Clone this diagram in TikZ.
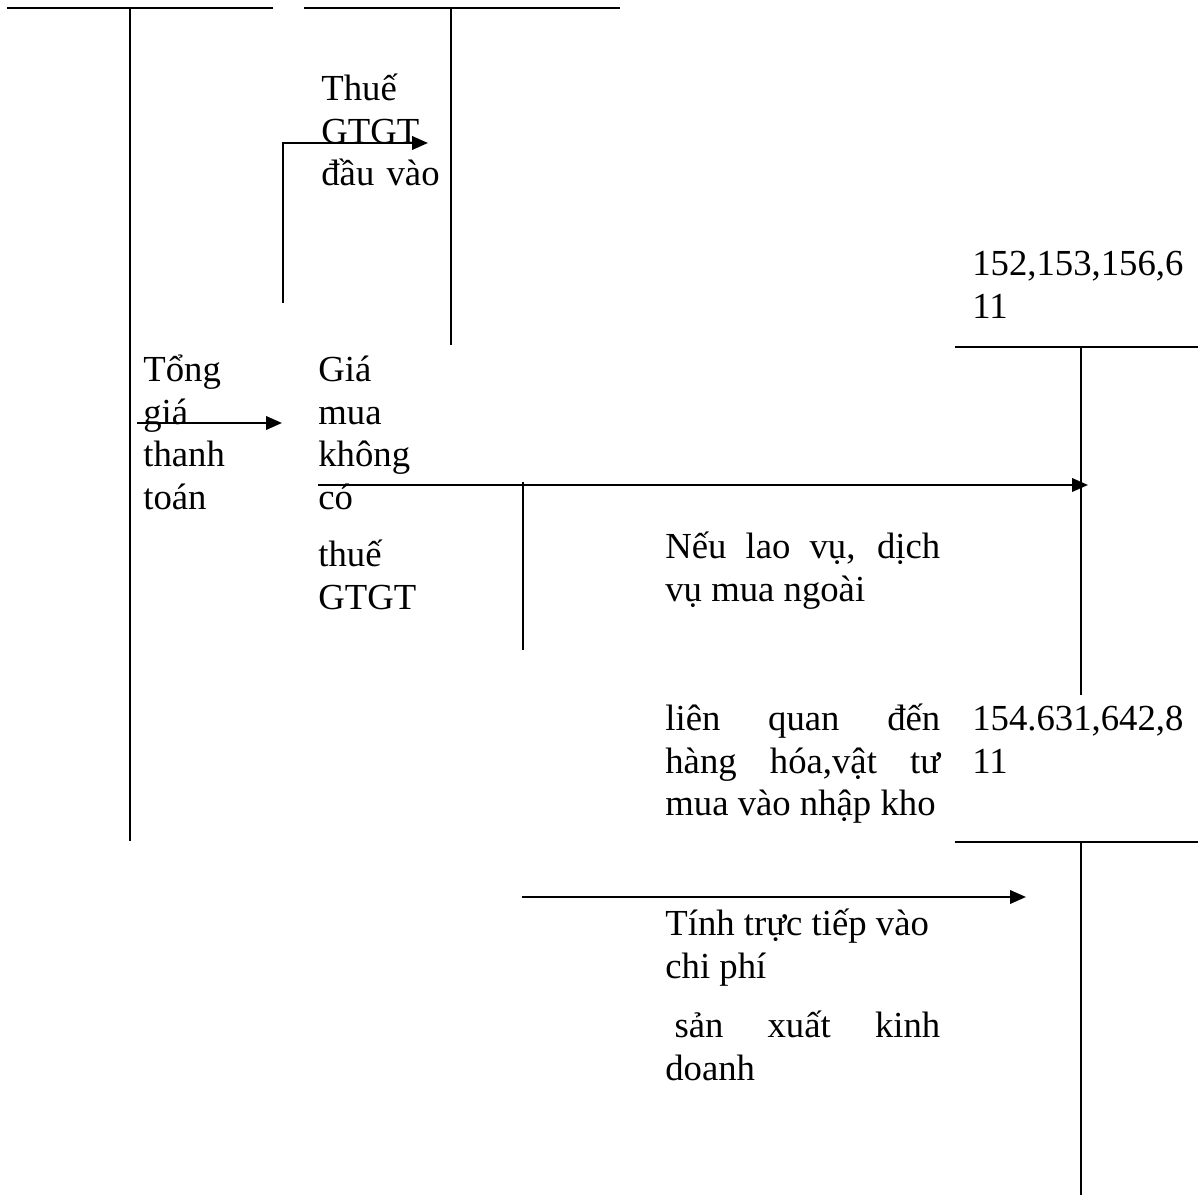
\documentclass[tikz,border=0pt]{standalone}
\usepackage{fontspec}
\setmainfont{Liberation Serif}
\usetikzlibrary{arrows.meta}
\setlength{\parindent}{0pt}
\newcommand{\diagfont}{\fontsize{20.9pt}{24.3pt}\selectfont}

\begin{document}
\begin{tikzpicture}[
    x=0.02cm, y=-0.02cm,
    acct/.style={line width=1.3pt},
    arrow/.style={line width=1.3pt, -{Triangle[length=0.32cm, width=0.27cm]}},
    txt/.style={anchor=north west, inner sep=0pt, yshift=23pt, font=\diagfont, text width=6cm, align=left, execute at begin node=\rule{0pt}{23pt}},
    jtxt/.style={txt, text width=5.5cm, align=justify}
]
\useasboundingbox (0,0) rectangle (1198,1195);

% Accounts
\draw[acct] (7,8) -- (273,8);
\draw[acct] (130,8) -- (130,841);
\draw[acct] (304,8) -- (620,8);
\draw[acct] (451,8) -- (451,345);
\draw[acct] (523,482) -- (523,650);
\draw[acct] (955,347) -- (1198,347);
\draw[acct] (1081,347) -- (1081,695);
\draw[acct] (955,842) -- (1198,842);
\draw[acct] (1081,842) -- (1081,1195);

% Labels
\node[txt] (vat) at (321,100) {Thuế\\GTGT\\đầu vào};
\node[txt] (total) at (143,381) {Tổng\\giá\\thanh\\toán};
\node[txt] (net) at (318,381) {Giá\\mua\\không\\có\\[8.1pt]thuế\\GTGT};
\node[txt] (acctA) at (972,275) {152,153,156,6\\11};
\node[jtxt] (service) at (665,558) {Nếu lao vụ, dịch\linebreak vụ mua ngoài};
\node[jtxt] (stock) at (665,730) {liên quan đến\linebreak hàng hóa,vật tư\linebreak mua vào nhập kho};
\node[txt] (acctB) at (972,730) {154.631,642,8\\11};
\node[jtxt] (expense) at (665,935) {Tính trực tiếp vào\\chi phí\\[9.8pt]\hspace*{.25em}sản xuất kinh\linebreak doanh};

% Flow
\coordinate (vatFrom) at (283,303);
\coordinate (vatTo) at (428,143);
\coordinate (totalFrom) at (137,423);
\coordinate (totalTo) at (282,423);
\coordinate (netFrom) at (318,485);
\coordinate (netTo) at (1088,485);
\coordinate (directFrom) at (522,897);
\coordinate (directTo) at (1026,897);

\draw[arrow] (vatFrom) |- (vatTo);
\draw[arrow] (totalFrom) -- (totalTo);
\draw[arrow] (netFrom) -- (netTo);
\draw[arrow] (directFrom) -- (directTo);

\end{tikzpicture}
\end{document}
